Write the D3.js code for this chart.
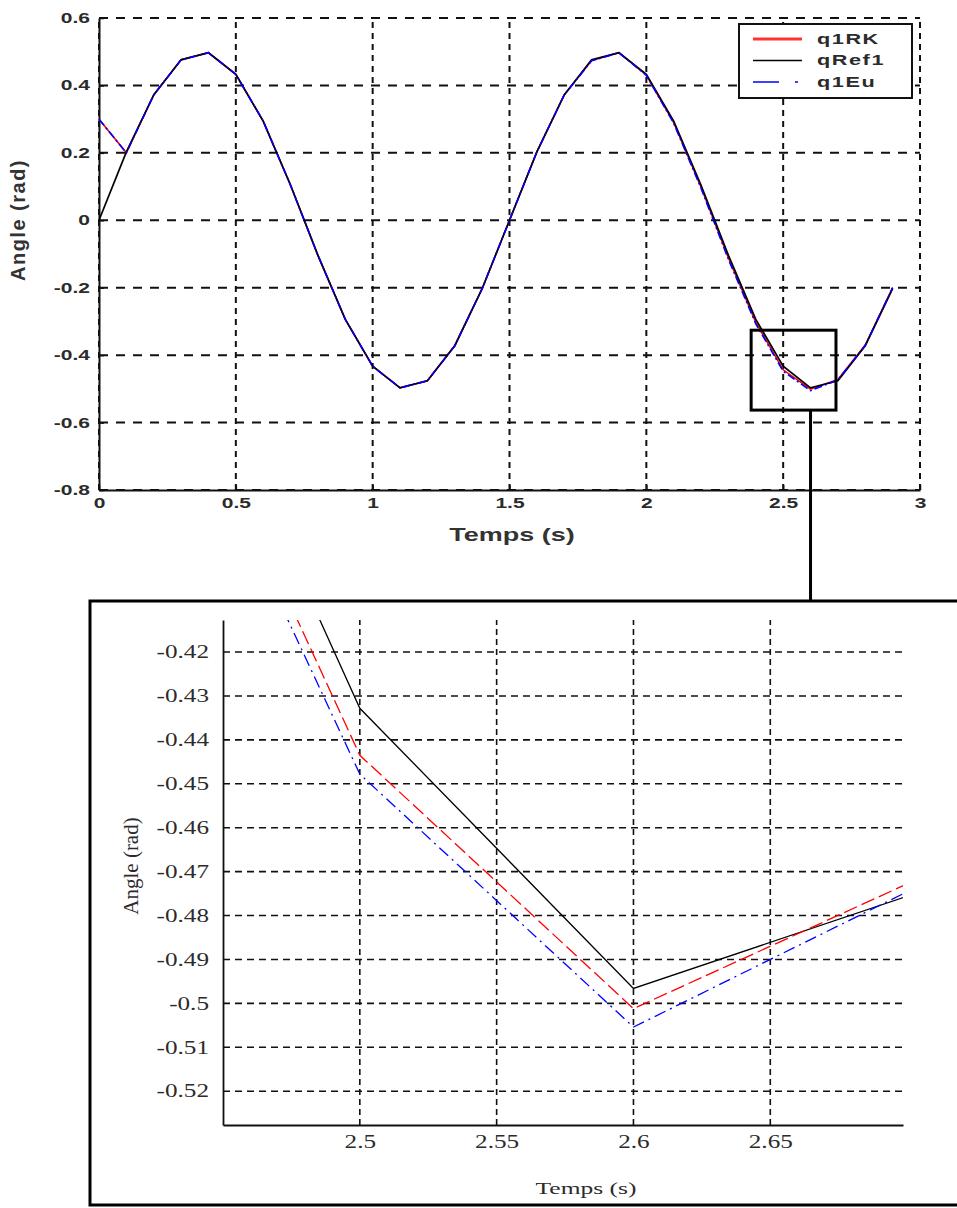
<!DOCTYPE html>
<html>
<head>
<meta charset="utf-8">
<script src="https://cdn.jsdelivr.net/npm/d3@7"></script>
<style>
  body { margin: 0; background: #fff; }
  svg { display: block; }
</style>
</head>
<body>
<svg id="fig"></svg>
<script>
// ---- data ----
const tTop = [0, 0.1, 0.2, 0.3, 0.4, 0.5, 0.6, 0.7, 0.8, 0.9, 1.0, 1.1, 1.2, 1.3, 1.4,
              1.5, 1.6, 1.7, 1.8, 1.9, 2.0, 2.1, 2.2, 2.3, 2.4, 2.5, 2.6, 2.7, 2.8, 2.9];
const qRef1 = [0, 0.203, 0.372, 0.476, 0.497, 0.433, 0.294, 0.104, -0.104, -0.294, -0.433, -0.497, -0.476, -0.372, -0.203,
               0, 0.203, 0.372, 0.476, 0.497, 0.433, 0.294, 0.104, -0.104, -0.294, -0.433, -0.497, -0.476, -0.372, -0.203];
const q1RK = [0.3, 0.2, 0.372, 0.476, 0.497, 0.433, 0.294, 0.104, -0.104, -0.294, -0.433, -0.497, -0.476, -0.372, -0.203,
              0, 0.203, 0.372, 0.474, 0.497, 0.431, 0.29, 0.098, -0.112, -0.303, -0.4435, -0.501, -0.4725, -0.37, -0.2];
const q1Eu = [0.3, 0.2, 0.372, 0.476, 0.497, 0.433, 0.294, 0.104, -0.104, -0.294, -0.433, -0.497, -0.476, -0.372, -0.203,
              0, 0.203, 0.372, 0.473, 0.497, 0.43, 0.288, 0.095, -0.116, -0.307, -0.4478, -0.5054, -0.4735, -0.371, -0.2];

const xTicksTop = [0, 0.5, 1, 1.5, 2, 2.5, 3];
const xLabelsTop = ["0", "0.5", "1", "1.5", "2", "2.5", "3"];
const yTicksTop = [0.6, 0.4, 0.2, 0, -0.2, -0.4, -0.6, -0.8];
const yLabelsTop = ["0.6", "0.4", "0.2", "0", "-0.2", "-0.4", "-0.6", "-0.8"];

// zoomed window (inset)
const tZoom = [2.45, 2.5, 2.6, 2.7];
const zRef1 = [-0.364, -0.4328, -0.4966, -0.4756];
const zRK = [-0.376, -0.4435, -0.5012, -0.4728];
const zEu = [-0.381, -0.4478, -0.5054, -0.4746];
const xTicksZoom = [2.5, 2.55, 2.6, 2.65];
const xLabelsZoom = ["2.5", "2.55", "2.6", "2.65"];
const yTicksZoom = [-0.42, -0.43, -0.44, -0.45, -0.46, -0.47, -0.48, -0.49, -0.5, -0.51, -0.52];
const yLabelsZoom = ["-0.42", "-0.43", "-0.44", "-0.45", "-0.46", "-0.47", "-0.48", "-0.49", "-0.5", "-0.51", "-0.52"];
const zoomBoxT = [2.383, 2.693];
const zoomBoxV = [-0.563, -0.326];

const legendNames = ["q1RK", "qRef1", "q1Eu"];

const W = 957, H = 1208;
const svg = d3.select("#fig").attr("width", W).attr("height", H);
svg.append("rect").attr("width", W).attr("height", H).attr("fill", "#fff");

const txt = "#2b2b2b";
const SANS = "'Liberation Sans', Arial, sans-serif";
const SERIF = "'Liberation Serif', 'Times New Roman', serif";

// the source picture is stretched sideways, so text is widened the same way
function stretch(sel, sx) {
  sel.each(function () {
    const t = d3.select(this);
    const xv = +t.attr("x") || 0;
    t.attr("x", xv / sx).attr("transform", `scale(${sx},1)`);
  });
}

// ---------------- top plot ----------------
const x = d3.scaleLinear().domain([0, 3]).range([99, 920]);
const y = d3.scaleLinear().domain([-0.8, 0.6]).range([490, 18]);

const gTop = svg.append("g");

// grid
gTop.append("g").selectAll("line").data(yTicksTop).join("line")
  .attr("x1", x(0)).attr("x2", x(3))
  .attr("y1", d => y(d)).attr("y2", d => y(d))
  .attr("stroke", "#111").attr("stroke-width", 2)
  .attr("stroke-dasharray", "9,8");
gTop.append("g").selectAll("line").data(xTicksTop).join("line")
  .attr("x1", d => x(d)).attr("x2", d => x(d))
  .attr("y1", y(-0.8)).attr("y2", y(0.6))
  .attr("stroke", "#111").attr("stroke-width", 2)
  .attr("stroke-dasharray", "6,5");

// axes (matlab style: ticks inside)
const axL = gTop.append("g").attr("transform", `translate(${x(0)},0)`)
  .call(d3.axisLeft(y).tickValues(yTicksTop).tickFormat((d, i) => yLabelsTop[i])
    .tickSizeInner(-5).tickSizeOuter(0).tickPadding(9));
const axB = gTop.append("g").attr("transform", `translate(0,${y(-0.8)})`)
  .call(d3.axisBottom(x).tickValues(xTicksTop).tickFormat((d, i) => xLabelsTop[i])
    .tickSizeInner(-5).tickSizeOuter(0).tickPadding(8));
[axL, axB].forEach(a => {
  a.select(".domain").attr("stroke", "#111").attr("stroke-width", 2);
  a.selectAll(".tick line").attr("stroke", "#111").attr("stroke-width", 1.5);
  a.selectAll("text").attr("fill", txt).style("font-family", SANS)
    .style("font-size", "14px").style("font-weight", "bold");
  stretch(a.selectAll("text"), 1.5);
});

const line = d3.line().x(d => x(d[0])).y(d => y(d[1]));
const toPts = (ts, vs) => ts.map((t, i) => [t, vs[i]]);

gTop.append("path").datum(toPts(tTop, q1RK)).attr("d", line)
  .attr("fill", "none").attr("stroke", "#ff0000").attr("stroke-width", 1.6);
gTop.append("path").datum(toPts(tTop, qRef1)).attr("d", line)
  .attr("fill", "none").attr("stroke", "#000").attr("stroke-width", 1.7);
gTop.append("path").datum(toPts(tTop, q1Eu)).attr("d", line)
  .attr("fill", "none").attr("stroke", "#0000ff").attr("stroke-width", 1.6)
  .attr("stroke-dasharray", "8,3,2,3");

// axis titles
const tx = gTop.append("text").attr("x", 512).attr("y", 541).attr("text-anchor", "middle")
  .attr("fill", "#333").style("font-family", SANS)
  .style("font-size", "18px").style("font-weight", "bold").text("Temps (s)");
stretch(tx, 1.5);
gTop.append("text").attr("transform", `translate(25,220) rotate(-90)`).attr("text-anchor", "middle")
  .attr("fill", "#333").style("font-family", SANS).style("letter-spacing", "1.5px")
  .style("font-size", "20px").style("font-weight", "bold").text("Angle (rad)");

// legend
const lg = gTop.append("g");
lg.append("rect").attr("x", 739).attr("y", 24).attr("width", 173).attr("height", 74)
  .attr("fill", "#fff").attr("stroke", "#111").attr("stroke-width", 2);
const legStyles = [
  { c: "#ff3333", w: 3, dash: null },
  { c: "#000", w: 1.6, dash: null },
  { c: "#0000ff", w: 1.6, dash: "26,16,3,20" }
];
legendNames.forEach((n, i) => {
  const yy = 39 + i * 21.5;
  const l = lg.append("line").attr("x1", 753).attr("x2", 802).attr("y1", yy).attr("y2", yy)
    .attr("stroke", legStyles[i].c).attr("stroke-width", legStyles[i].w);
  if (legStyles[i].dash) l.attr("stroke-dasharray", legStyles[i].dash);
  const lt = lg.append("text").attr("x", 817).attr("y", yy + 5).attr("fill", txt)
    .style("font-family", SANS).style("font-size", "14px").style("font-weight", "bold")
    .style("letter-spacing", "1px").text(n);
  stretch(lt, 1.55);
});

// zoom rectangle + connector
svg.append("rect")
  .attr("x", x(zoomBoxT[0])).attr("y", y(zoomBoxV[1]))
  .attr("width", x(zoomBoxT[1]) - x(zoomBoxT[0])).attr("height", y(zoomBoxV[0]) - y(zoomBoxV[1]))
  .attr("fill", "none").attr("stroke", "#000").attr("stroke-width", 3);
svg.append("line").attr("x1", x(2.6)).attr("x2", x(2.6))
  .attr("y1", y(zoomBoxV[0])).attr("y2", 601)
  .attr("stroke", "#000").attr("stroke-width", 3);

// ---------------- inset ----------------
svg.append("rect").attr("x", 90).attr("y", 601).attr("width", 880).attr("height", 604)
  .attr("fill", "#fff").attr("stroke", "#000").attr("stroke-width", 3);

const xi = d3.scaleLinear().domain([2.45, 2.6985]).range([223, 903]);
const yi = d3.scaleLinear().domain([-0.5277, -0.4127]).range([1125, 620]);
const gIn = svg.append("g");

svg.append("defs").append("clipPath").attr("id", "clipIn")
  .append("rect").attr("x", xi(2.45)).attr("y", yi(-0.4127))
  .attr("width", xi(2.6985) - xi(2.45)).attr("height", yi(-0.5277) - yi(-0.4127));

gIn.append("g").selectAll("line").data(yTicksZoom).join("line")
  .attr("x1", xi(2.45)).attr("x2", xi(2.6985))
  .attr("y1", d => yi(d)).attr("y2", d => yi(d))
  .attr("stroke", "#111").attr("stroke-width", 1.6).attr("stroke-dasharray", "7,5");
gIn.append("g").selectAll("line").data(xTicksZoom).join("line")
  .attr("x1", d => xi(d)).attr("x2", d => xi(d))
  .attr("y1", yi(-0.5277)).attr("y2", yi(-0.4127))
  .attr("stroke", "#111").attr("stroke-width", 1.6).attr("stroke-dasharray", "6,4");

const axLi = gIn.append("g").attr("transform", `translate(${xi(2.45)},0)`)
  .call(d3.axisLeft(yi).tickValues(yTicksZoom).tickFormat((d, i) => yLabelsZoom[i])
    .tickSize(0).tickPadding(14));
const axBi = gIn.append("g").attr("transform", `translate(0,${yi(-0.5277)})`)
  .call(d3.axisBottom(xi).tickValues(xTicksZoom).tickFormat((d, i) => xLabelsZoom[i])
    .tickSize(0).tickPadding(10));
[axLi, axBi].forEach(a => {
  a.select(".domain").attr("stroke", "#111").attr("stroke-width", 1.8);
  a.selectAll("text").attr("fill", txt).style("font-family", SERIF).style("font-size", "18px");
  stretch(a.selectAll("text"), 1.4);
});

const linei = d3.line().x(d => xi(d[0])).y(d => yi(d[1]));
const gLines = gIn.append("g").attr("clip-path", "url(#clipIn)");
gLines.append("path").datum(toPts(tZoom, zRef1)).attr("d", linei)
  .attr("fill", "none").attr("stroke", "#000").attr("stroke-width", 1.3);
gLines.append("path").datum(toPts(tZoom, zRK)).attr("d", linei)
  .attr("fill", "none").attr("stroke", "#ff0000").attr("stroke-width", 1.3)
  .attr("stroke-dasharray", "14,5");
gLines.append("path").datum(toPts(tZoom, zEu)).attr("d", linei)
  .attr("fill", "none").attr("stroke", "#0000ff").attr("stroke-width", 1.3)
  .attr("stroke-dasharray", "12,5,2,5");

const ti = gIn.append("text").attr("x", 586).attr("y", 1194).attr("text-anchor", "middle")
  .attr("fill", txt).style("font-family", SERIF).style("font-size", "17px").text("Temps (s)");
stretch(ti, 1.5);
gIn.append("text").attr("transform", `translate(138,866) rotate(-90)`).attr("text-anchor", "middle")
  .attr("fill", txt).style("font-family", SERIF).style("font-size", "21px").text("Angle (rad)");
</script>
</body>
</html>
